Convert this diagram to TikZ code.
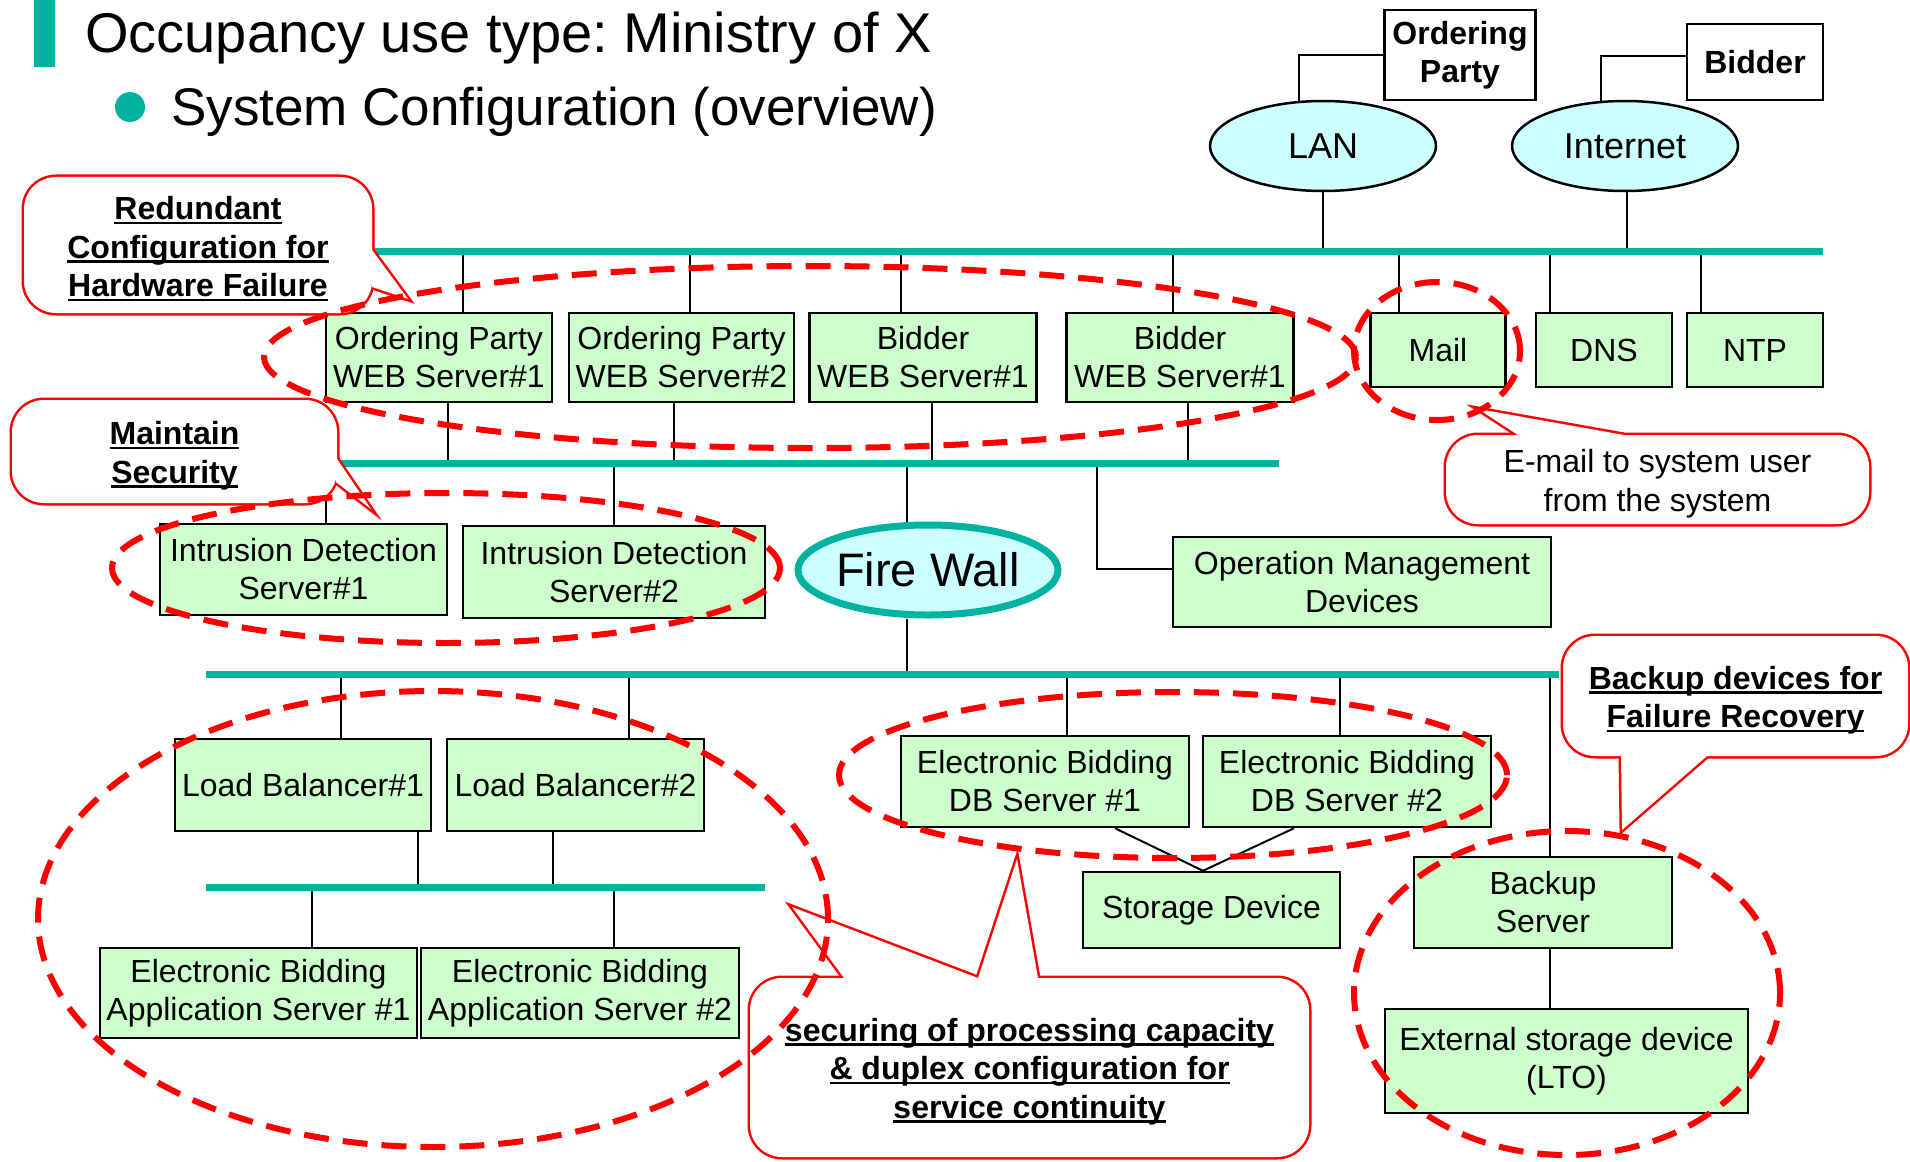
\documentclass[tikz,border=0pt]{standalone}
\usepackage{fontspec}
\setmainfont{Liberation Sans}
\usetikzlibrary{shapes.geometric,backgrounds}
\frenchspacing

\definecolor{busteal}{HTML}{00B3A0}
\definecolor{boxgreen}{HTML}{CCFFCC}
\definecolor{cloudcyan}{HTML}{CCFFFF}
\definecolor{markred}{HTML}{FF0000}

\newcommand\boxfont{\fontsize{32}{38}\selectfont}
\newsavebox\ulinebox
\newcommand\ulbar[1]{\sbox\ulinebox{#1}\rlap{\rule[-4.5pt]{\wd\ulinebox}{2.5pt}}\usebox\ulinebox}
% vertical tap from a node anchor (shifted sideways) to a bus
\newcommand\tap[4]{%
  \path ([xshift=#2]#1) coordinate (#4);
  \draw[wire] (#4) -- (#4 |- #3);}

\tikzset{
  dev/.style={draw=black, line width=2.5pt, fill=boxgreen, inner sep=0pt,
              align=center, font=\boxfont},
  party/.style={draw=black, line width=2.5pt, fill=white, inner sep=0pt,
              align=center, font=\boxfont\bfseries},
  cloud/.style={ellipse, draw=black, line width=2.5pt, fill=cloudcyan,
              inner sep=0pt, font=\fontsize{36}{40}\selectfont},
  bus/.style={draw=busteal, line width=7pt},
  wire/.style={draw=black, line width=2pt},
  cobody/.style={draw=markred, line width=5pt, rounded corners=32pt,
              inner sep=0pt, outer sep=0pt},
  coptr/.style={draw=markred, line width=5pt},
  cofill/.style={fill=white},
  cotext/.style={align=center, inner sep=0pt, yshift=-4pt,
              font=\fontsize{32}{38.5}\selectfont\bfseries},
  ring/.style={draw=markred, line width=6pt, dash pattern=on 25pt off 14pt},
}

\begin{document}
\begin{tikzpicture}[x=1pt, y=-1pt]
\useasboundingbox (0,0) rectangle (1910,1161);

% heading
\fill[busteal] (34,0) rectangle (55,67);
\node[anchor=base west, inner sep=0pt, font=\fontsize{56}{60}\selectfont] (title) at (85,53)
  {Occupancy use type: Ministry of X};
\fill[busteal] (130,107) circle (15pt);
\node[anchor=base west, inner sep=0pt, font=\fontsize{53}{58}\selectfont] (subtitle) at (171,126)
  {System Configuration (overview)};

% external parties and networks
\node[party, minimum width=151pt, minimum height=90pt] (op) at (1460,55) {Ordering\\Party};
\node[party, minimum width=136pt, minimum height=76pt] (bid) at (1755,62) {Bidder};
\node[cloud, minimum width=226pt, minimum height=90pt] (lan) at (1323,146) {LAN};
\node[cloud, minimum width=226pt, minimum height=90pt] (inet) at (1625,146) {Internet};

% web / mail tier
\node[dev, minimum width=226pt, minimum height=89pt] (opw1) at (439,357.5) {Ordering Party\\WEB Server\#1};
\node[dev, minimum width=225pt, minimum height=89pt] (opw2) at (681.5,357.5) {Ordering Party\\WEB Server\#2};
\node[dev, minimum width=227pt, minimum height=89pt] (bw1) at (923,357.5) {Bidder\\WEB Server\#1};
\node[dev, minimum width=227pt, minimum height=89pt] (bw2) at (1180,357.5) {Bidder\\WEB Server\#1};
\node[dev, minimum width=135pt, minimum height=74pt] (mail) at (1438,350) {Mail};
\node[dev, minimum width=136pt, minimum height=74pt] (dns) at (1604,350) {DNS};
\node[dev, minimum width=136pt, minimum height=74pt] (ntp) at (1755,350) {NTP};

% security tier
\node[dev, minimum width=287pt, minimum height=91pt] (ids1) at (303.5,569.5) {Intrusion Detection\\Server\#1};
\node[dev, minimum width=302pt, minimum height=92pt] (ids2) at (614,572) {Intrusion Detection\\Server\#2};
\node[ellipse, draw=busteal, line width=7pt, fill=cloudcyan, inner sep=0pt,
      minimum width=260pt, minimum height=90pt, font=\fontsize{47}{50}\selectfont] (fw) at (928,570) {Fire Wall};
\node[dev, minimum width=378pt, minimum height=90pt] (opm) at (1362,582) {Operation Management\\Devices};

% application / database tier
\node[dev, minimum width=256pt, minimum height=92pt] (lb1) at (303,785) {Load Balancer\#1};
\node[dev, minimum width=257pt, minimum height=92pt] (lb2) at (575.5,785) {Load Balancer\#2};
\node[dev, minimum width=317pt, minimum height=90pt] (app1) at (258.5,993) {Electronic Bidding\\Application Server \#1};
\node[dev, minimum width=318pt, minimum height=90pt] (app2) at (580,993) {Electronic Bidding\\Application Server \#2};
\node[dev, minimum width=288pt, minimum height=91pt] (db1) at (1045,781.5) {Electronic Bidding\\DB Server \#1};
\node[dev, minimum width=288pt, minimum height=91pt] (db2) at (1347,781.5) {Electronic Bidding\\DB Server \#2};
\node[dev, minimum width=257pt, minimum height=76pt] (stor) at (1211.5,910) {Storage Device};
\node[dev, minimum width=258pt, minimum height=91pt] (bak) at (1543,902.5) {Backup\\Server};
\node[dev, minimum width=363pt, minimum height=104pt] (ext) at (1566.5,1061) {External storage device\\(LTO)};

% bus ends
\coordinate (b1w) at (372,251);  \coordinate (b1e) at (1823,251);
\coordinate (b2w) at (341,463);  \coordinate (b2e) at (1279,463);
\coordinate (b3w) at (206,674);  \coordinate (b3e) at (1559,674);
\coordinate (b4w) at (206,887);  \coordinate (b4e) at (765,887);
\coordinate (opmtap) at (1097,463);

\begin{pgfonlayer}{background}
  \draw[wire] (lan.118) |- (op.west);
  \draw[wire] (inet.118) |- ([yshift=6pt]bid.west);
  \tap{lan.south}{0pt}{b1w}{t1}
  \tap{inet.south}{2pt}{b1w}{t2}
  \tap{opw1.north}{24pt}{b1w}{t3}
  \tap{opw2.north}{8pt}{b1w}{t4}
  \tap{bw1.north}{-22pt}{b1w}{t5}
  \tap{bw2.north}{-7pt}{b1w}{t6}
  \tap{mail.north}{-39pt}{b1w}{t7}
  \tap{dns.north}{-54pt}{b1w}{t8}
  \tap{ntp.north}{-54pt}{b1w}{t9}
  \tap{opw1.south}{9pt}{b2w}{u1}
  \tap{opw2.south}{-7.5pt}{b2w}{u2}
  \tap{bw1.south}{9pt}{b2w}{u3}
  \tap{bw2.south}{8pt}{b2w}{u4}
  \tap{ids1.north}{22.5pt}{b2w}{u5}
  \tap{ids2.north}{0pt}{b2w}{u6}
  \tap{fw.north}{-21pt}{b2w}{u7}
  \path ([yshift=13pt]opm.west) coordinate (opmin);
  \draw[wire] (opmin) -| (opmtap);
  \tap{fw.south}{-21pt}{b3w}{v1}
  \tap{lb1.north}{38pt}{b3w}{v2}
  \tap{lb2.north}{53.5pt}{b3w}{v3}
  \tap{db1.north}{22pt}{b3w}{v4}
  \tap{db2.north}{-7pt}{b3w}{v5}
  \tap{bak.north}{7pt}{b3w}{v6}
  \tap{lb1.south}{115pt}{b4w}{w1}
  \tap{lb2.south}{-22.5pt}{b4w}{w2}
  \tap{app1.north}{53.5pt}{b4w}{w3}
  \tap{app2.north}{34pt}{b4w}{w4}
  \path ([xshift=7pt]bak.south) coordinate (x1);
  \draw[wire] (x1) -- (x1 |- ext.north);
  \draw[wire] ([xshift=70pt]db1.south) -- ([xshift=-8.5pt]stor.north);
  \draw[wire] ([xshift=-53pt]db2.south) -- ([xshift=-8.5pt]stor.north);
  \draw[bus] (b1w) -- (b1e);
  \draw[bus] (b2w) -- (b2e);
  \draw[bus] (b3w) -- (b3e);
  \draw[bus] (b4w) -- (b4e);
\end{pgfonlayer}

% callouts: outline first, then white fill over the inner half of the outline
\node[cobody, minimum width=348pt, minimum height=136pt] (c1) at (198,245) {};
\node[cobody, minimum width=325pt, minimum height=103pt] (c2) at (174.5,451.5) {};
\node[cobody, minimum width=423pt, minimum height=89pt] (c3) at (1657.5,479.5) {};
\node[cobody, minimum width=345pt, minimum height=120pt] (c4) at (1735.5,696) {};
\node[cobody, minimum width=559pt, minimum height=179pt] (c5) at (1029.5,1067.5) {};
\draw[coptr] (372,250) -- (408,299) -- (372,287) -- cycle;
\draw[coptr] (337,459) -- (371,509) -- (336,482) -- cycle;
\draw[coptr] (1518,435) -- (1478,409) -- (1624,435) -- cycle;
\draw[coptr] (1621,756) -- (1622,830) -- (1707,756) -- cycle;
\draw[coptr] (844,978) -- (792,907) -- (978,978) -- cycle;
\draw[coptr] (978,978) -- (1017,859) -- (1038,978) -- cycle;
\foreach \c in {c1,c2,c3,c4,c5}
  \fill[cofill, rounded corners=32pt] (\c.south west) rectangle (\c.north east);
\fill[cofill] (372,250) -- (408,299) -- (372,287) -- cycle;
\fill[cofill] (337,459) -- (371,509) -- (336,482) -- cycle;
\fill[cofill] (1518,435) -- (1478,409) -- (1624,435) -- cycle;
\fill[cofill] (1621,756) -- (1622,830) -- (1707,756) -- cycle;
\fill[cofill] (844,978) -- (792,907) -- (978,978) -- cycle;
\fill[cofill] (978,978) -- (1017,859) -- (1038,978) -- cycle;
\node[cotext] (c1t) at (c1)
  {\ulbar{Redundant}\\\ulbar{Configuration for}\\\ulbar{Hardware Failure}};
\node[cotext] (c2t) at (c2) {\ulbar{Maintain}\\\ulbar{Security}};
\node[cotext, font=\fontsize{32}{38.5}\selectfont] (c3t) at (c3) {E-mail to system user\\from the system};
\node[cotext] (c4t) at (c4) {\ulbar{Backup devices for}\\\ulbar{Failure Recovery}};
\node[cotext] (c5t) at (c5)
  {\ulbar{securing of processing capacity}\\\ulbar{\& duplex configuration for}\\\ulbar{service continuity}};

% dashed groupings
\draw[ring] (810,357) ellipse [x radius=546pt, y radius=91pt];
\draw[ring] (1437,351) ellipse [x radius=83pt, y radius=69pt];
\draw[ring] (446,568) ellipse [x radius=334pt, y radius=75pt];
\draw[ring] (433,919) ellipse [x radius=395pt, y radius=228pt];
\draw[ring] (1173,775) ellipse [x radius=334pt, y radius=83pt];
\draw[ring] (1567,993) ellipse [x radius=213pt, y radius=162pt];
\end{tikzpicture}
\end{document}
